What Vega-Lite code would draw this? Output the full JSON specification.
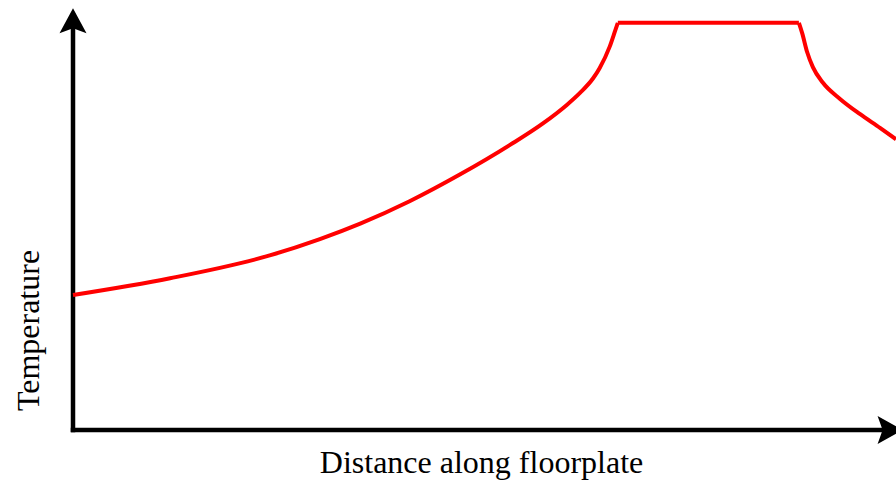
{
  "$schema": "https://vega.github.io/schema/vega-lite/v6.json",
  "width": 823,
  "height": 430,
  "autosize": {"type": "none"},
  "padding": {"left": 73, "top": 0, "right": 0, "bottom": 51},
  "background": "white",
  "config": {"view": {"stroke": null}},
  "datasets": {
    "curve": [
      {"seg": "rise", "d": 0, "t": 31.4},
      {"seg": "rise", "d": 11.8, "t": 35.3},
      {"seg": "rise", "d": 23.9, "t": 40.6},
      {"seg": "rise", "d": 30.0, "t": 44.4},
      {"seg": "rise", "d": 34.9, "t": 48.0},
      {"seg": "rise", "d": 40.9, "t": 53.2},
      {"seg": "rise", "d": 47.0, "t": 59.4},
      {"seg": "rise", "d": 53.1, "t": 66.3},
      {"seg": "rise", "d": 57.1, "t": 71.3},
      {"seg": "rise", "d": 60.0, "t": 75.6},
      {"seg": "rise", "d": 61.6, "t": 78.4},
      {"seg": "rise", "d": 63.2, "t": 81.8},
      {"seg": "rise", "d": 64.0, "t": 84.2},
      {"seg": "rise", "d": 65.2, "t": 89.1},
      {"seg": "rise", "d": 65.9, "t": 93.0},
      {"seg": "rise", "d": 66.2, "t": 94.7},
      {"seg": "flat", "d": 66.2, "t": 94.7},
      {"seg": "flat", "d": 88.2, "t": 94.7},
      {"seg": "fall", "d": 88.2, "t": 94.7},
      {"seg": "fall", "d": 88.6, "t": 92.3},
      {"seg": "fall", "d": 89.2, "t": 87.9},
      {"seg": "fall", "d": 89.9, "t": 84.4},
      {"seg": "fall", "d": 91.1, "t": 80.8},
      {"seg": "fall", "d": 93.2, "t": 77.0},
      {"seg": "fall", "d": 95.6, "t": 73.5},
      {"seg": "fall", "d": 98.1, "t": 70.2},
      {"seg": "fall", "d": 100, "t": 67.6}
    ],
    "axes": [
      {"x1": 0, "x2": 0, "y1": 0, "y2": 93},
      {"x1": 0, "x2": 98.5, "y1": 0, "y2": 0}
    ],
    "arrows": [
      {"x": 0, "y": 98.1, "dir": "up"},
      {"x": 100.8, "y": 0, "dir": "right"}
    ]
  },
  "layer": [
    {
      "data": {"name": "axes"},
      "mark": {"type": "rule", "color": "black", "strokeWidth": 4.5, "strokeCap": "square"},
      "encoding": {
        "x": {
          "field": "x1", "type": "quantitative", "scale": {"domain": [0, 100], "nice": false, "zero": false},
          "axis": {
            "title": "Distance along floorplate",
            "domain": false, "ticks": false, "labels": false, "grid": false,
            "titleFont": "Liberation Serif", "titleFontSize": 32, "titleFontWeight": "normal", "titleColor": "black",
            "titleBaseline": "alphabetic", "titleAlign": "center", "titleX": 408, "titleY": 42
          }
        },
        "x2": {"field": "x2"},
        "y": {
          "field": "y1", "type": "quantitative", "scale": {"domain": [0, 100], "nice": false, "zero": false},
          "axis": {
            "title": "Temperature",
            "domain": false, "ticks": false, "labels": false, "grid": false,
            "titleFont": "Liberation Serif", "titleFontSize": 32, "titleFontWeight": "normal", "titleColor": "black",
            "titleAngle": -90, "titleBaseline": "alphabetic", "titleAlign": "center", "titleX": -35, "titleY": 330
          }
        },
        "y2": {"field": "y2"}
      }
    },
    {
      "data": {"name": "arrows"},
      "transform": [{"filter": "datum.dir === 'up'"}],
      "mark": {"type": "point", "filled": true, "color": "black", "opacity": 1, "size": 2500, "shape": "M0,0 L0.54,1 L0,0.8 L-0.54,1 Z"},
      "encoding": {
        "x": {"field": "x", "type": "quantitative"},
        "y": {"field": "y", "type": "quantitative"}
      }
    },
    {
      "data": {"name": "arrows"},
      "transform": [{"filter": "datum.dir === 'right'"}],
      "mark": {"type": "point", "filled": true, "color": "black", "opacity": 1, "size": 2500, "shape": "M0,0 L-1,-0.56 L-0.8,0 L-1,0.56 Z"},
      "encoding": {
        "x": {"field": "x", "type": "quantitative"},
        "y": {"field": "y", "type": "quantitative"}
      }
    },
    {
      "data": {"name": "curve"},
      "mark": {"type": "line", "color": "#ff0000", "strokeWidth": 4, "strokeJoin": "round", "interpolate": "monotone", "clip": false},
      "encoding": {
        "x": {"field": "d", "type": "quantitative"},
        "y": {"field": "t", "type": "quantitative"},
        "detail": {"field": "seg"}
      }
    }
  ]
}
